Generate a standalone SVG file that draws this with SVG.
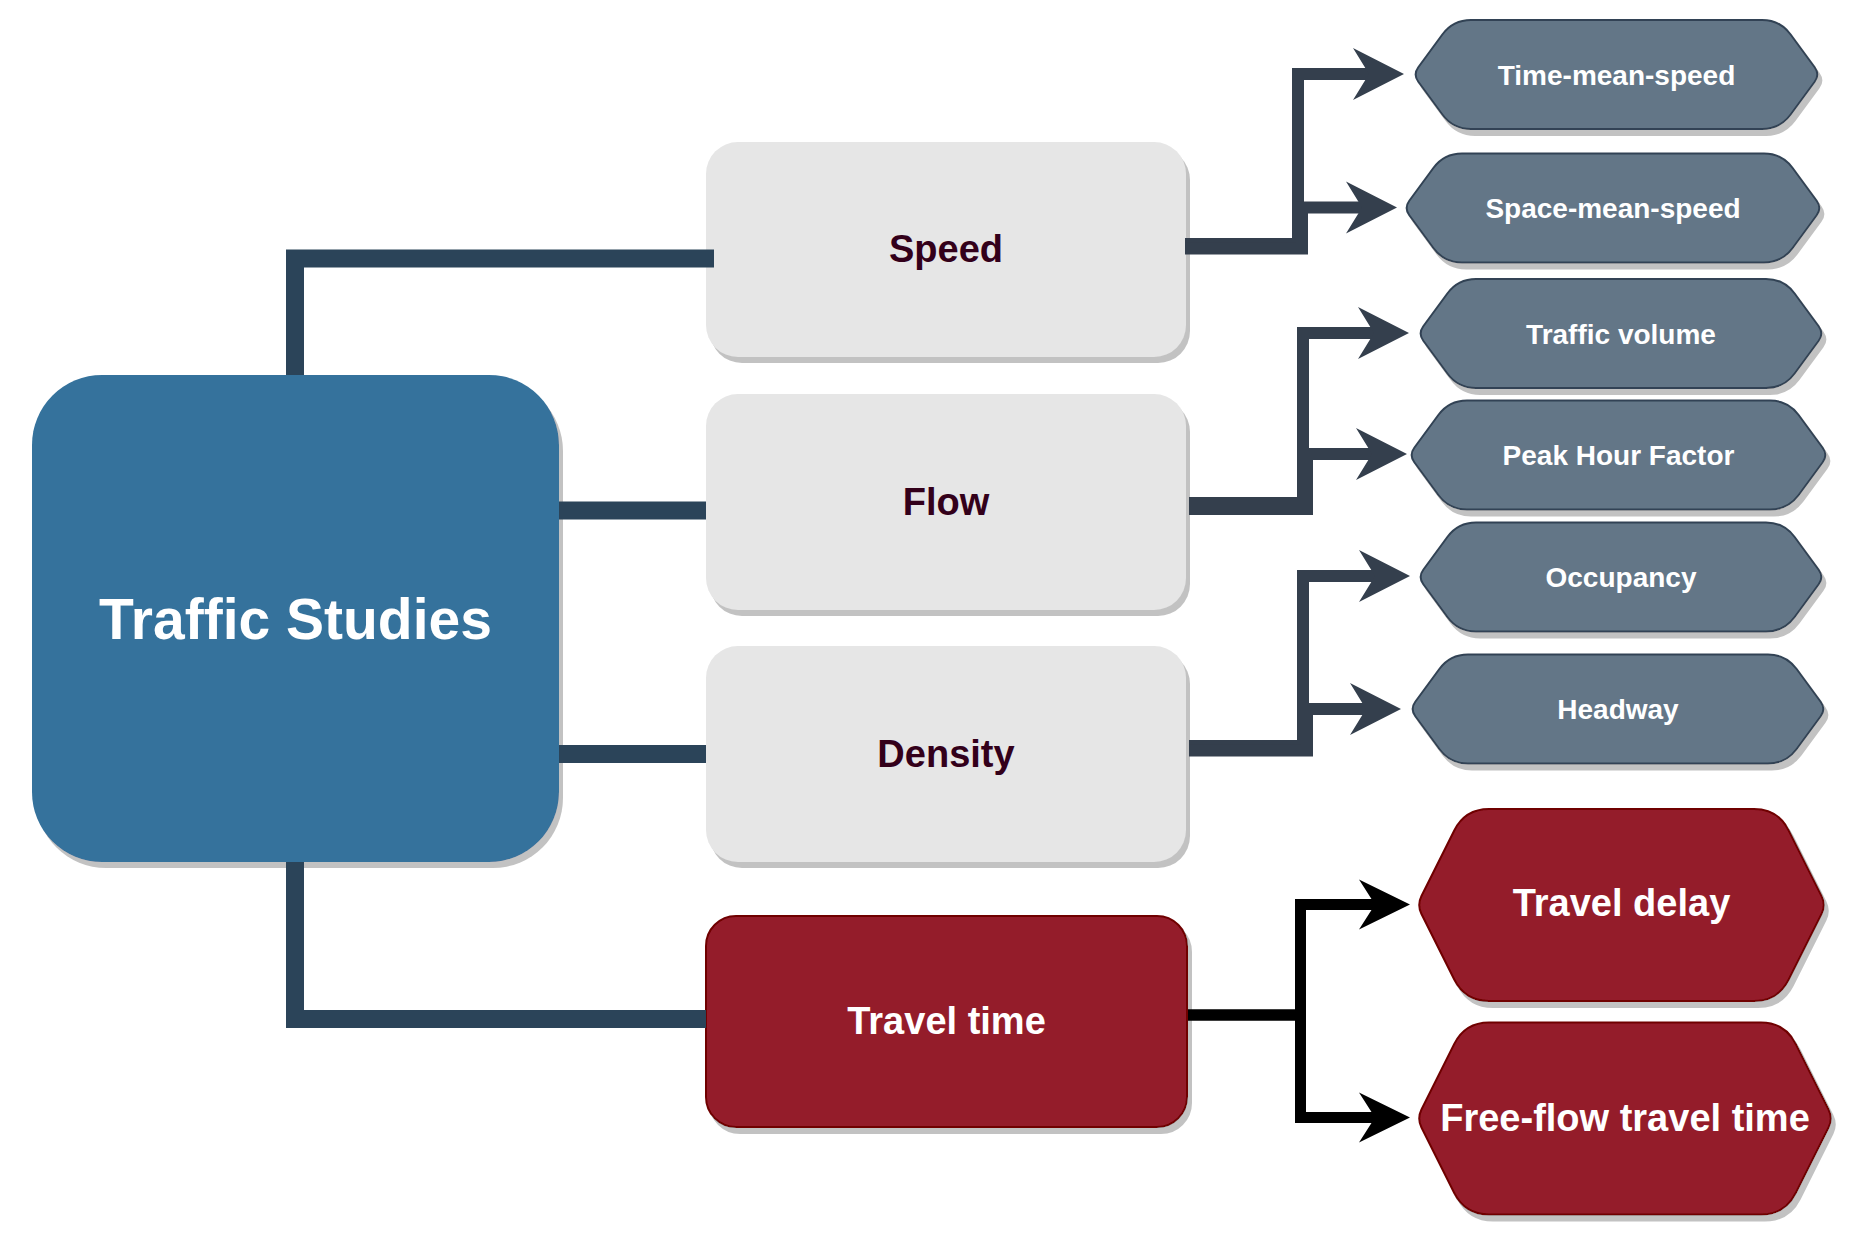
<svg xmlns="http://www.w3.org/2000/svg" width="1850" height="1248" viewBox="0 0 1850 1248">
  <defs>
    <style>
      text { font-family: "Liberation Sans", Arial, Helvetica, sans-serif; font-weight: bold; text-anchor: middle; }
      .root { fill: #34729c; }
      .root-label { fill: #ffffff; font-size: 57px; }
      .cat { fill: #e6e6e6; }
      .cat-label { fill: #33001a; font-size: 38px; }
      .hot { fill: #941c2b; stroke: #6f0000; stroke-width: 2; }
      .hot-label { fill: #ffffff; font-size: 38px; }
      .metric { fill: #647687; stroke: #314354; stroke-width: 2; }
      .metric-label { fill: #ffffff; font-size: 28px; }
      .trunk { fill: none; stroke: #2b4459; stroke-width: 18; stroke-linejoin: miter; }
      .branch { fill: none; stroke: #343f4d; stroke-width: 12; stroke-linejoin: miter; marker-end: url(#headDark); }
      .branch-black { fill: none; stroke: #000000; stroke-width: 11; stroke-linejoin: miter; marker-end: url(#headBlack); }
    </style>
    <filter id="shadow" x="-10%" y="-10%" width="130%" height="130%">
      <feFlood flood-color="#c2c2c2" result="c"/>
      <feComposite in="c" in2="SourceAlpha" operator="in" result="s"/>
      <feOffset in="s" dx="4" dy="6" result="so"/>
      <feMerge>
        <feMergeNode in="so"/>
        <feMergeNode in="SourceGraphic"/>
      </feMerge>
    </filter>
    <marker id="headDark" markerUnits="userSpaceOnUse" viewBox="-2 -30 60 60" refX="16" refY="0" markerWidth="60" markerHeight="60" orient="auto" overflow="visible">
      <path d="M0,-26 L51,0 L0,26 L16,0 Z" fill="#343f4d"/>
    </marker>
    <marker id="headBlack" markerUnits="userSpaceOnUse" viewBox="-2 -30 60 60" refX="16" refY="0" markerWidth="60" markerHeight="60" orient="auto" overflow="visible">
      <path d="M0,-25 L51,0 L0,25 L16,0 Z" fill="#000000"/>
    </marker>
  </defs>

  <rect width="1850" height="1248" fill="#ffffff"/>

  <!-- root node -->
  <g id="traffic-studies">
    <rect class="root" x="32" y="375" width="527" height="487" rx="70" ry="70" filter="url(#shadow)"/>
    <text class="root-label" x="295.5" y="639">Traffic Studies</text>
  </g>

  <!-- category nodes -->
  <g id="speed">
    <rect class="cat" x="706" y="142" width="480" height="215" rx="32" ry="32" filter="url(#shadow)"/>
    <text class="cat-label" x="946" y="262">Speed</text>
  </g>
  <g id="flow">
    <rect class="cat" x="706" y="394" width="480" height="216" rx="32" ry="32" filter="url(#shadow)"/>
    <text class="cat-label" x="946" y="515">Flow</text>
  </g>
  <g id="density">
    <rect class="cat" x="706" y="646" width="480" height="216" rx="32" ry="32" filter="url(#shadow)"/>
    <text class="cat-label" x="946" y="767">Density</text>
  </g>
  <g id="travel-time">
    <rect class="hot" x="706" y="916" width="481" height="211" rx="30" ry="30" filter="url(#shadow)"/>
    <text class="hot-label" x="946.5" y="1034">Travel time</text>
  </g>

  <!-- measure nodes (rounded hexagons) -->
  <g id="time-mean-speed">
    <path class="metric" filter="url(#shadow)" d="M1418.3,67.25 l24.05,-32.75 q10.65,-14.5 28.65,-14.5 h291 q18,0 28.65,14.5 l24.05,32.75 q5.3,7.25 0,14.5 l-24.05,32.75 q-10.65,14.5 -28.65,14.5 h-291 q-18,0 -28.65,-14.5 l-24.05,-32.75 q-5.3,-7.25 0,-14.5 z"/>
    <text class="metric-label" x="1616.5" y="84.5">Time-mean-speed</text>
  </g>
  <g id="space-mean-speed">
    <path class="metric" filter="url(#shadow)" d="M1409.3,200.75 l24.05,-32.75 q10.65,-14.5 28.65,-14.5 h302 q18,0 28.65,14.5 l24.05,32.75 q5.3,7.25 0,14.5 l-24.05,32.75 q-10.65,14.5 -28.65,14.5 h-302 q-18,0 -28.65,-14.5 l-24.05,-32.75 q-5.3,-7.25 0,-14.5 z"/>
    <text class="metric-label" x="1613" y="218">Space-mean-speed</text>
  </g>
  <g id="traffic-volume">
    <path class="metric" filter="url(#shadow)" d="M1423.3,326.25 l24.05,-32.75 q10.65,-14.5 28.65,-14.5 h290 q18,0 28.65,14.5 l24.05,32.75 q5.3,7.25 0,14.5 l-24.05,32.75 q-10.65,14.5 -28.65,14.5 h-290 q-18,0 -28.65,-14.5 l-24.05,-32.75 q-5.3,-7.25 0,-14.5 z"/>
    <text class="metric-label" x="1621" y="343.5">Traffic volume</text>
  </g>
  <g id="peak-hour-factor">
    <path class="metric" filter="url(#shadow)" d="M1414.3,447.75 l24.05,-32.75 q10.65,-14.5 28.65,-14.5 h303 q18,0 28.65,14.5 l24.05,32.75 q5.3,7.25 0,14.5 l-24.05,32.75 q-10.65,14.5 -28.65,14.5 h-303 q-18,0 -28.65,-14.5 l-24.05,-32.75 q-5.3,-7.25 0,-14.5 z"/>
    <text class="metric-label" x="1618.5" y="465">Peak Hour Factor</text>
  </g>
  <g id="occupancy">
    <path class="metric" filter="url(#shadow)" d="M1423.3,569.75 l24.05,-32.75 q10.65,-14.5 28.65,-14.5 h290 q18,0 28.65,14.5 l24.05,32.75 q5.3,7.25 0,14.5 l-24.05,32.75 q-10.65,14.5 -28.65,14.5 h-290 q-18,0 -28.65,-14.5 l-24.05,-32.75 q-5.3,-7.25 0,-14.5 z"/>
    <text class="metric-label" x="1621" y="587">Occupancy</text>
  </g>
  <g id="headway">
    <path class="metric" filter="url(#shadow)" d="M1415.3,701.75 l24.05,-32.75 q10.65,-14.5 28.65,-14.5 h300 q18,0 28.65,14.5 l24.05,32.75 q5.3,7.25 0,14.5 l-24.05,32.75 q-10.65,14.5 -28.65,14.5 h-300 q-18,0 -28.65,-14.5 l-24.05,-32.75 q-5.3,-7.25 0,-14.5 z"/>
    <text class="metric-label" x="1618" y="719">Headway</text>
  </g>
  <g id="travel-delay">
    <path class="hot" filter="url(#shadow)" d="M1421.47,896.05 l32.79,-65.58 q10.74,-21.47 34.74,-21.47 h265 q24,0 34.74,21.47 l32.79,65.58 q4.47,8.95 0,17.9 l-32.79,65.58 q-10.74,21.47 -34.74,21.47 h-265 q-24,0 -34.74,-21.47 l-32.79,-65.58 q-4.47,-8.95 0,-17.9 z"/>
    <text class="hot-label" x="1621.5" y="916">Travel delay</text>
  </g>
  <g id="free-flow-travel-time">
    <path class="hot" filter="url(#shadow)" d="M1421.47,1109.55 l32.79,-65.58 q10.74,-21.47 34.74,-21.47 h272 q24,0 34.74,21.47 l32.79,65.58 q4.47,8.95 0,17.9 l-32.79,65.58 q-10.74,21.47 -34.74,21.47 h-272 q-24,0 -34.74,-21.47 l-32.79,-65.58 q-4.47,-8.95 0,-17.9 z"/>
    <text class="hot-label" x="1625" y="1131">Free-flow travel time</text>
  </g>

  <!-- connectors -->
  <g id="connectors">
    <path class="trunk" d="M295,375 V258.5 H714"/>
    <path class="trunk" d="M559,510.5 H706"/>
    <path class="trunk" d="M559,754 H706"/>
    <path class="trunk" d="M295,862 V1019 H706"/>

    <path class="branch" d="M1185,244 H1298 V74 H1369"/>
    <path class="branch" d="M1185,248.5 H1302 V207.5 H1362"/>

    <path class="branch" d="M1189,503 H1303 V333 H1374"/>
    <path class="branch" d="M1189,509 H1307 V454 H1372"/>

    <path class="branch" d="M1189,746 H1303 V576 H1375"/>
    <path class="branch" d="M1189,750.5 H1307 V709 H1366"/>

    <path class="branch-black" d="M1188,1015 H1300.5 V904.5 H1375"/>
    <path class="branch-black" d="M1188,1015 H1300.5 V1117.5 H1375"/>
  </g>
</svg>
